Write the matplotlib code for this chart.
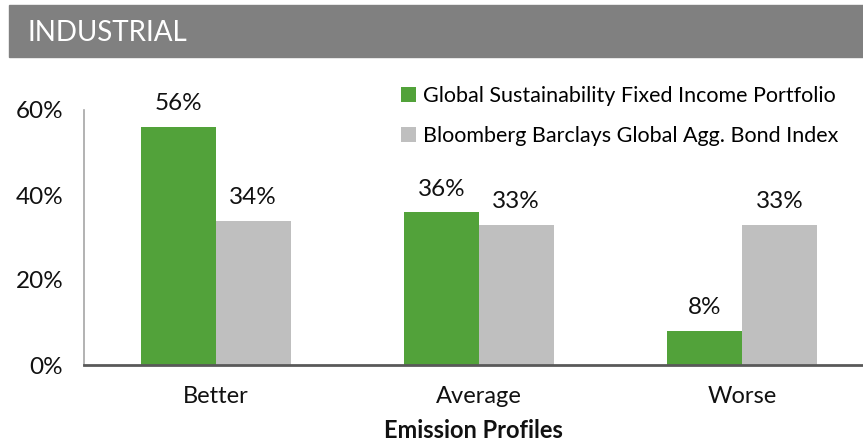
import matplotlib.pyplot as plt
import numpy as np
from matplotlib import patches

GREEN = "#52a23a"
LIGHT = "#bfbfbf"
HEADER = "#808080"

categories = ["Better", "Average", "Worse"]
portfolio = [56, 36, 8]
index_vals = [34, 33, 33]
series_names = [
    "Global Sustainability Fixed Income Portfolio",
    "Bloomberg Barclays Global Agg. Bond Index",
]
yticks = [0, 20, 40, 60]

plt.rcParams["font.family"] = ["Lato", "DejaVu Sans"]

W, H = 863, 442
fig = plt.figure(figsize=(W / 100, H / 100), dpi=100)

# header band
fig.patches.append(patches.Rectangle((9 / W, 1 - 57 / H), 1 - 9 / W, 52 / H,
                                     transform=fig.transFigure, color=HEADER, zorder=0))
fig.text(28 / W, 1 - 33 / H, "INDUSTRIAL", color="white", fontsize=20, va="center", ha="left")

ax = fig.add_axes([84 / W, 1 - 365 / H, (863 - 84) / W, (365 - 110) / H])
x = np.arange(len(categories))
width = 0.285
b1 = ax.bar(x - width / 2, portfolio, width, color=GREEN, label=series_names[0])
b2 = ax.bar(x + width / 2, index_vals, width, color=LIGHT, label=series_names[1])
for bars, vals in [(b1, portfolio), (b2, index_vals)]:
    ax.bar_label(bars, labels=[f"{v}%" for v in vals], padding=9, fontsize=17.5, color="#111111")

ax.set_xlim(-0.5, 2.46)
ax.set_ylim(0, 60)
ax.set_yticks(yticks)
ax.set_yticklabels([f"{v}%" for v in yticks])
ax.set_xticks(x)
ax.set_xticklabels(categories)
ax.tick_params(axis="y", length=0, pad=15, labelsize=17.5, labelcolor="#111111")
ax.tick_params(axis="x", length=0, pad=15, labelsize=17, labelcolor="#111111")
ax.set_xlabel("Emission Profiles", fontsize=17, fontweight="bold", labelpad=9, color="#111111")

for side in ["top", "right"]:
    ax.spines[side].set_visible(False)
ax.spines["left"].set_color("#a6a6a6")
ax.spines["left"].set_linewidth(1.2)
ax.spines["bottom"].set_color("#595959")
ax.spines["bottom"].set_linewidth(2)

leg = ax.legend(loc="upper left", bbox_to_anchor=(0.396, 1.127), frameon=False,
                fontsize=15.5, handlelength=0.7, handleheight=0.7, handletextpad=0.3,
                labelspacing=0.9, borderaxespad=0)

fig.savefig("out.png", dpi=100)
